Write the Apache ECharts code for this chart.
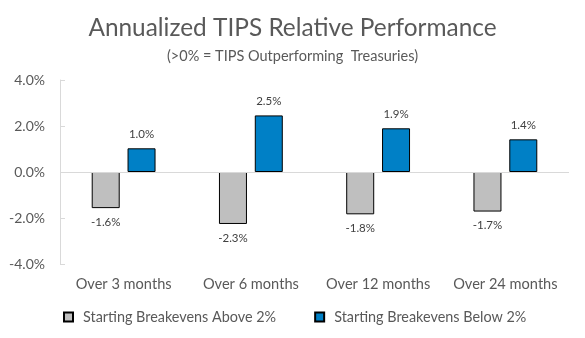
<!DOCTYPE html>
<html><head><meta charset="utf-8">
<script src="https://cdn.jsdelivr.net/npm/echarts@6/dist/echarts.min.js"></script>
<style>html,body{margin:0;padding:0;background:#fff}#c{width:585px;height:338px}</style>
</head><body><div id="c"></div>
<script>
const categories = ['Over 3 months', 'Over 6 months', 'Over 12 months', 'Over 24 months'];
const aboveValues = [-1.57, -2.26, -1.84, -1.72];
const belowValues = [1.03, 2.46, 1.9, 1.42];
const yTicks = [-4, -2, 0, 2, 4];
const seriesNames = ['Starting Breakevens Above 2%', 'Starting Breakevens Below 2%'];

const FONT = 'Lato, "Liberation Sans", Arial, sans-serif';
const chart = echarts.init(document.getElementById('c'), null, {renderer: 'canvas'});
chart.setOption({
  animation: false,
  backgroundColor: '#fff',
  title: [
    {text: 'Annualized TIPS Relative Performance', left: 'center', top: 11,
     textStyle: {fontFamily: FONT, fontSize: 24.4, fontWeight: 'normal', color: '#595959'}},
    {text: '(>0% = TIPS Outperforming  Treasuries)', left: 'center', top: 44,
     textStyle: {fontFamily: FONT, fontSize: 14.5, fontWeight: 'normal', color: '#595959'}}
  ],
  grid: {left: 60, right: 16, top: 80, bottom: 74, containLabel: false},
  legend: {
    bottom: 9, left: 58, itemGap: 38, itemWidth: 9, itemHeight: 9,
    icon: 'rect',
    textStyle: {fontFamily: FONT, fontSize: 14.4, color: '#595959', padding: [0, 0, 0, 5]},
    data: seriesNames
  },
  xAxis: {
    type: 'category', data: categories, position: 'bottom',
    axisLine: {show: false}, axisTick: {show: false},
    axisLabel: {interval: 0, fontFamily: FONT, fontSize: 14.6, color: '#595959', margin: 13}
  },
  yAxis: {
    type: 'value', min: yTicks[0], max: yTicks[yTicks.length - 1], interval: 2,
    axisLine: {show: true, lineStyle: {color: '#d9d9d9'}},
    axisTick: {show: true, inside: true, length: 5, lineStyle: {color: '#d9d9d9'}},
    splitLine: {show: false},
    axisLabel: {fontFamily: FONT, fontSize: 14, color: '#595959', margin: 15,
      formatter: v => v.toFixed(1) + '%'}
  },
  series: [
    {name: seriesNames[0], type: 'bar', data: aboveValues, barWidth: 28, barGap: '28%',
     itemStyle: {color: '#bfbfbf', borderColor: '#000', borderWidth: 1},
     label: {show: true, position: 'bottom', distance: 8, fontFamily: FONT, fontSize: 11.5, color: '#404040',
       formatter: p => p.value.toFixed(1) + '%'},
     markLine: {silent: true, symbol: 'none', label: {show: false},
       lineStyle: {color: '#d9d9d9', type: 'solid', width: 1},
       data: [{yAxis: 0}]}
    },
    {name: seriesNames[1], type: 'bar', data: belowValues, barWidth: 28,
     itemStyle: {color: '#0080c6', borderColor: '#000', borderWidth: 1},
     label: {show: true, position: 'top', distance: 8, fontFamily: FONT, fontSize: 11.5, color: '#404040',
       formatter: p => p.value.toFixed(1) + '%'}
    }
  ]
});
</script></body></html>
